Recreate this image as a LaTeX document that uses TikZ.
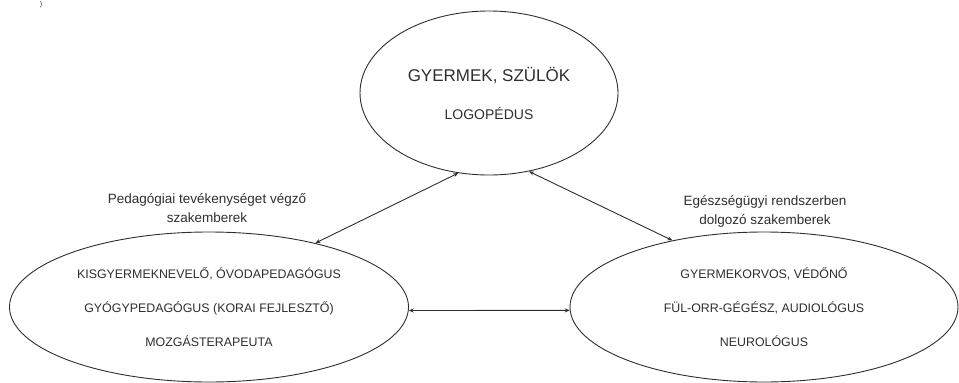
\documentclass[tikz,border=0pt]{standalone}
\usepackage{fontspec}
\setmainfont{Liberation Sans}
\usetikzlibrary{shapes.geometric,arrows.meta}
\definecolor{ink}{HTML}{2E2E2E}
\begin{document}
\begin{tikzpicture}[x=1pt,y=-1pt,
  ell/.style={draw=ink, line width=0.9pt, ellipse, inner sep=0pt, align=center, text=ink},
  lbl/.style={align=center, font=\fontsize{13.5}{19}\selectfont, text=ink},
  link/.style={draw=ink, line width=0.9pt, {Stealth[length=5pt,width=4pt]}-{Stealth[length=5pt,width=4pt]}}]
\useasboundingbox (0,0) rectangle (959,383);
\node[ell, minimum width=258pt, minimum height=164pt, font=\fontsize{14}{38}\selectfont] (top) at (489,93)
  {{\fontsize{17}{38}\selectfont GYERMEK, SZÜLÖK}\\LOGOPÉDUS};
\node[ell, minimum width=399pt, minimum height=150pt, font=\fontsize{12.4}{34}\selectfont] (left) at (209,307)
  {KISGYERMEKNEVELŐ, ÓVODAPEDAGÓGUS\\GYÓGYPEDAGÓGUS (KORAI FEJLESZTŐ)\\MOZGÁSTERAPEUTA};
\node[ell, minimum width=388pt, minimum height=150pt, font=\fontsize{12.4}{34}\selectfont] (right) at (764,307)
  {GYERMEKORVOS, VÉDŐNŐ\\FÜL-ORR-GÉGÉSZ, AUDIOLÓGUS\\NEUROLÓGUS};
\node[lbl] (ped) at (207,208) {Pedagógiai tevékenységet végző\\szakemberek};
\node[lbl] (egs) at (765,211) {Egészségügyi rendszerben\\dolgozó szakemberek};
\node[anchor=north, inner sep=0.5pt, font=\fontsize{7}{8}\selectfont, text=ink] (paren) at (41,0.5) {)};
\draw[link] (left.31.6) -- (top.249);
\draw[link] (right.144.3) -- (top.297);
\draw[link] (left.-1) -- (right.181);
\end{tikzpicture}
\end{document}
